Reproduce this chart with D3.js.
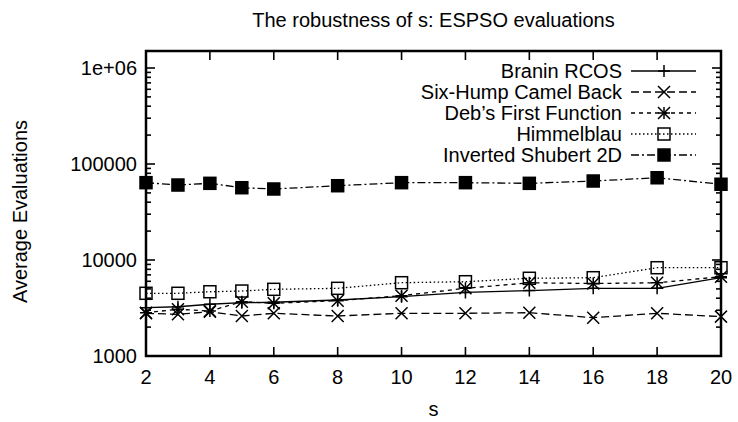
<!DOCTYPE html>
<html>
<head>
<meta charset="utf-8">
<script src="https://cdn.jsdelivr.net/npm/d3@7"></script>
<style>
  html, body { margin: 0; padding: 0; background: #fff; }
  svg { display: block; font-family: "Liberation Sans", Arial, sans-serif; }
</style>
</head>
<body>
<svg id="chart" width="738" height="422"></svg>
<script>
// values
const sValues = [2, 3, 4, 5, 6, 8, 10, 12, 14, 16, 18, 20];
const branin = [3190, 3260, 3460, 3590, 3630, 3830, 4150, 4590, 4800, 5070, 5070, 6540];
const sixHump = [2785, 2720, 2890, 2610, 2785, 2610, 2785, 2785, 2825, 2505, 2785, 2570];
const debs = [2825, 3065, 2940, 3680, 3540, 3770, 4250, 5070, 5790, 5690, 5790, 6700];
const himmelblau = [4500, 4500, 4670, 4750, 4950, 5070, 5800, 5940, 6450, 6540, 8310, 8310];
const shubert = [63900, 60400, 62900, 56600, 54900, 59400, 63900, 63900, 62900, 66500, 71900, 61500];

const seriesNames = ['Branin RCOS', 'Six-Hump Camel Back', "Deb\u2019s First Function", 'Himmelblau', 'Inverted Shubert 2D'];
const xTicks = [2, 4, 6, 8, 10, 12, 14, 16, 18, 20];
const yTicks = [1000, 10000, 100000, 1000000];
const yTickLabels = ['1000', '10000', '100000', '1e+06'];

const series = [
  {name: seriesNames[0], values: branin, dash: null, marker: 'plus'},
  {name: seriesNames[1], values: sixHump, dash: '8,4', marker: 'cross'},
  {name: seriesNames[2], values: debs, dash: '4,4', marker: 'star'},
  {name: seriesNames[3], values: himmelblau, dash: '1.5,2.5', marker: 'box'},
  {name: seriesNames[4], values: shubert, dash: '8,3,2,3', marker: 'fbox'}
];

const margin = {top: 51, right: 17, bottom: 66, left: 146};
const width = 738, height = 422;
const iw = width - margin.left - margin.right;
const ih = height - margin.top - margin.bottom;

const x = d3.scaleLinear().domain([2, 20]).range([0, iw]);
const y = d3.scaleLog().domain([1000, 1000 * Math.pow(10, ih / 96)]).range([ih, 0]);

const svg = d3.select('#chart');
const g = svg.append('g').attr('transform', 'translate(' + margin.left + ',' + margin.top + ')');

// ticks
const major = 9, minor = 5;
const tickG = g.append('g').attr('stroke', '#000').attr('stroke-width', 1.6);
xTicks.forEach(t => {
  tickG.append('line').attr('x1', x(t)).attr('x2', x(t)).attr('y1', ih).attr('y2', ih - major);
  tickG.append('line').attr('x1', x(t)).attr('x2', x(t)).attr('y1', 0).attr('y2', major);
});
const [y0, y1] = y.domain();
for (let dec = 1000; dec <= y1; dec *= 10) {
  for (let m = 1; m < 10; m++) {
    const v = dec * m;
    if (v > y1) break;
    const len = m === 1 ? major : minor;
    tickG.append('line').attr('x1', 0).attr('x2', len).attr('y1', y(v)).attr('y2', y(v));
    tickG.append('line').attr('x1', iw).attr('x2', iw - len).attr('y1', y(v)).attr('y2', y(v));
  }
}

// tick labels
g.append('g').selectAll('text').data(xTicks).enter().append('text')
  .attr('x', d => x(d)).attr('y', ih + 28)
  .attr('text-anchor', 'middle').attr('font-size', 20).text(d => d);
g.append('g').selectAll('text').data(yTicks).enter().append('text')
  .attr('x', -9).attr('y', d => y(d)).attr('dy', '0.35em')
  .attr('text-anchor', 'end').attr('font-size', 20).text((d, i) => yTickLabels[i]);

// border
g.append('rect').attr('width', iw).attr('height', ih)
  .attr('fill', 'none').attr('stroke', '#000').attr('stroke-width', 2.5);

function drawMarker(sel, type, cx, cy) {
  const r = 6;
  const m = sel.append('g').attr('transform', 'translate(' + cx + ',' + cy + ')')
    .attr('stroke', '#000').attr('stroke-width', 1.5).attr('fill', 'none');
  if (type === 'plus' || type === 'star') {
    m.append('path').attr('d', `M${-r},0H${r}M0,${-r}V${r}`);
  }
  if (type === 'cross' || type === 'star') {
    m.append('path').attr('d', `M${-r},${-r}L${r},${r}M${-r},${r}L${r},${-r}`);
  }
  if (type === 'box') {
    m.append('rect').attr('x', -r).attr('y', -r).attr('width', 2 * r).attr('height', 2 * r);
  }
  if (type === 'fbox') {
    m.append('rect').attr('x', -r).attr('y', -r).attr('width', 2 * r).attr('height', 2 * r)
      .attr('fill', '#000');
  }
}

const line = d3.line().x(d => x(d[0])).y(d => y(d[1]));
series.forEach(s => {
  const pts = sValues.map((v, i) => [v, s.values[i]]);
  g.append('path').datum(pts).attr('d', line)
    .attr('fill', 'none').attr('stroke', '#000').attr('stroke-width', 1.3)
    .attr('stroke-dasharray', s.dash);
  pts.forEach(p => drawMarker(g, s.marker, x(p[0]), y(p[1])));
});

// legend
const leg = svg.append('g');
series.forEach((s, i) => {
  const ly = 71 + i * 21;
  leg.append('text').attr('x', 622).attr('y', ly).attr('dy', '0.35em')
    .attr('text-anchor', 'end').attr('font-size', 20).text(s.name);
  leg.append('line').attr('x1', 631).attr('x2', 696).attr('y1', ly).attr('y2', ly)
    .attr('stroke', '#000').attr('stroke-width', 1.3).attr('stroke-dasharray', s.dash);
  drawMarker(leg, s.marker, 664, ly);
});

// titles
svg.append('text').attr('x', margin.left + iw / 2).attr('y', 27)
  .attr('text-anchor', 'middle').attr('font-size', 20).text('The robustness of s: ESPSO evaluations');
svg.append('text').attr('x', margin.left + iw / 2).attr('y', 416)
  .attr('text-anchor', 'middle').attr('font-size', 20).text('s');
svg.append('text').attr('transform', 'translate(27,' + (margin.top + ih / 2 + 8) + ') rotate(-90)')
  .attr('text-anchor', 'middle').attr('font-size', 20).text('Average Evaluations');
</script>
</body>
</html>
